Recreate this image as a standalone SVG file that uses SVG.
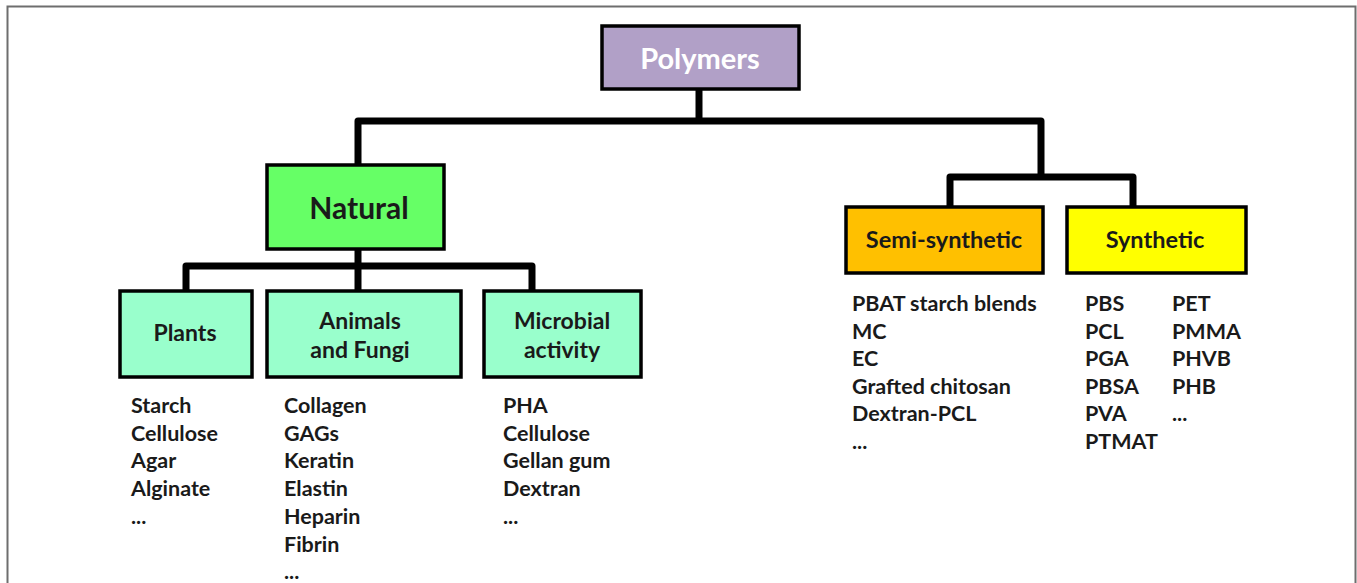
<svg xmlns="http://www.w3.org/2000/svg" width="1357" height="583" viewBox="0 0 1357 583">
<style>
.box{stroke:#000;stroke-width:3.5}
.lbl{font-family:Lato,"Open Sans","Liberation Sans",sans-serif;font-weight:bold;fill:#1a1a1a;text-anchor:middle}
.item{font-family:Lato,"Open Sans","Liberation Sans",sans-serif;font-weight:bold;fill:#1a1a1a;font-size:21.5px}
.conn{fill:none;stroke:#000;stroke-width:7;stroke-linejoin:round;stroke-linecap:butt}
</style>
<rect width="1357" height="583" fill="#fff"/>
<path d="M7.5 583 V6.5 H1355.5 V583" fill="none" stroke="#6e6e6e" stroke-width="2"/>
<g id="connectors">
<path class="conn" d="M699 89 V121"/>
<path class="conn" d="M358 165 V121 H1041 V177"/>
<path class="conn" d="M950 207 V177 H1133 V207"/>
<path class="conn" d="M358 249 V291"/>
<path class="conn" d="M186 291 V266 H532 V291"/>
</g>
<g id="polymers">
<rect class="box" x="602" y="26" width="197" height="63" fill="#B1A0C7"/>
<text class="lbl" x="700" y="69" font-size="29" style="fill:#fff">Polymers</text>
</g>
<g id="natural">
<rect class="box" x="267" y="165" width="177" height="84" fill="#66FF66"/>
<text class="lbl" x="359" y="219" font-size="30">Natural</text>
</g>
<g id="plants">
<rect class="box" x="120" y="291" width="132" height="86" fill="#99FFCC"/>
<text class="lbl" x="185" y="341" font-size="23">Plants</text>
</g>
<g id="animals">
<rect class="box" x="267" y="291" width="194" height="86" fill="#99FFCC"/>
<text class="lbl" x="360" y="329" font-size="23">Animals</text>
<text class="lbl" x="360" y="358" font-size="23">and Fungi</text>
</g>
<g id="microbial">
<rect class="box" x="484" y="291" width="157" height="86" fill="#99FFCC"/>
<text class="lbl" x="562" y="329" font-size="23">Microbial</text>
<text class="lbl" x="562" y="358" font-size="23">activity</text>
</g>
<g id="semi">
<rect class="box" x="846" y="207" width="197" height="66" fill="#FFC000"/>
<text class="lbl" x="944" y="248" font-size="23.5">Semi-synthetic</text>
</g>
<g id="synthetic">
<rect class="box" x="1067" y="207" width="179" height="66" fill="#FFFF00"/>
<text class="lbl" x="1155" y="248" font-size="23.5">Synthetic</text>
</g>
<g id="lists">
<text class="item" x="131" y="413"><tspan x="131">Starch</tspan><tspan x="131" dy="27.7">Cellulose</tspan><tspan x="131" dy="27.7">Agar</tspan><tspan x="131" dy="27.7">Alginate</tspan><tspan x="131" dy="27.7">...</tspan></text>
<text class="item" x="284" y="413"><tspan x="284">Collagen</tspan><tspan x="284" dy="27.7">GAGs</tspan><tspan x="284" dy="27.7">Keratin</tspan><tspan x="284" dy="27.7">Elastin</tspan><tspan x="284" dy="27.7">Heparin</tspan><tspan x="284" dy="27.7">Fibrin</tspan><tspan x="284" dy="27.7">...</tspan></text>
<text class="item" x="503" y="413"><tspan x="503">PHA</tspan><tspan x="503" dy="27.7">Cellulose</tspan><tspan x="503" dy="27.7">Gellan gum</tspan><tspan x="503" dy="27.7">Dextran</tspan><tspan x="503" dy="27.7">...</tspan></text>
<text class="item" x="852" y="311"><tspan x="852">PBAT starch blends</tspan><tspan x="852" dy="27.6">MC</tspan><tspan x="852" dy="27.6">EC</tspan><tspan x="852" dy="27.6">Grafted chitosan</tspan><tspan x="852" dy="27.6">Dextran-PCL</tspan><tspan x="852" dy="27.6">...</tspan></text>
<text class="item" x="1085" y="311"><tspan x="1085">PBS</tspan><tspan x="1085" dy="27.6">PCL</tspan><tspan x="1085" dy="27.6">PGA</tspan><tspan x="1085" dy="27.6">PBSA</tspan><tspan x="1085" dy="27.6">PVA</tspan><tspan x="1085" dy="27.6">PTMAT</tspan></text>
<text class="item" x="1172" y="311"><tspan x="1172">PET</tspan><tspan x="1172" dy="27.6">PMMA</tspan><tspan x="1172" dy="27.6">PHVB</tspan><tspan x="1172" dy="27.6">PHB</tspan><tspan x="1172" dy="27.6">...</tspan></text>
</g>
</svg>
